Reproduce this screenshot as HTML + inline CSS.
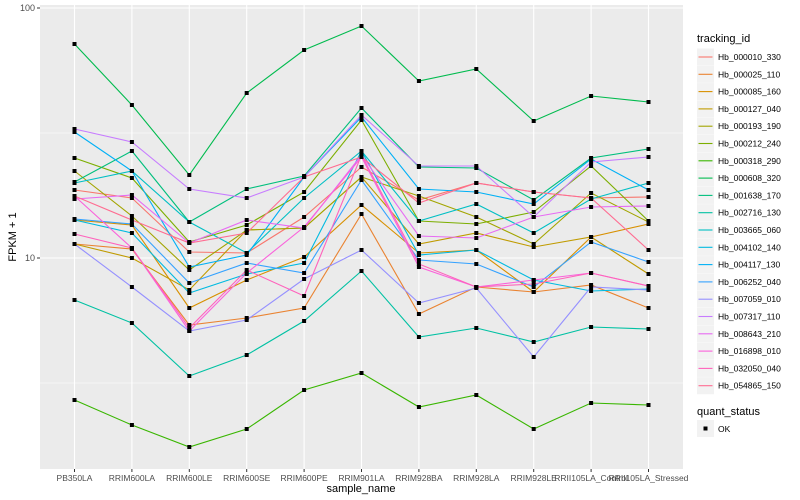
<!DOCTYPE html>
<html><head><meta charset="utf-8"><style>
html,body{margin:0;padding:0;background:#fff;}
svg{display:block;font-family:"Liberation Sans",sans-serif;}
</style></head><body>
<svg id="s" width="800" height="500" xmlns="http://www.w3.org/2000/svg">
<rect x="40" y="5" width="643" height="464" fill="#EBEBEB"/>
<g stroke="#fff" fill="none">
<line x1="40" x2="683" y1="133" y2="133" stroke-width="0.5"/>
<line x1="40" x2="683" y1="383" y2="383" stroke-width="0.5"/>
<line x1="40" x2="683" y1="8" y2="8" stroke-width="1.1"/>
<line x1="40" x2="683" y1="258" y2="258" stroke-width="1.1"/>
<g id="vg" stroke-width="1.1"></g>
</g>
<g id="lines" fill="none" stroke-width="1.1"></g>
<g id="pts" fill="#000"></g>
<g font-size="9" fill="#4D4D4D" text-anchor="end">
<text x="35" y="11">100</text>
<text x="35" y="261">10</text>
</g>
<g stroke="#333" stroke-width="1">
<line x1="37" x2="40" y1="8" y2="8"/><line x1="37" x2="40" y1="258" y2="258"/>
</g>
<g id="xl" font-size="8.5" fill="#4D4D4D" text-anchor="middle"></g>
<text x="361" y="492" font-size="11" text-anchor="middle" fill="#000">sample_name</text>
<text transform="translate(16,237) rotate(-90)" font-size="11" text-anchor="middle" fill="#000">FPKM + 1</text>
<text x="697" y="42" font-size="11" fill="#000">tracking_id</text>
<g id="leg"></g>
<text x="697" y="415" font-size="11" fill="#000">quant_status</text>
<rect x="697" y="420" width="17" height="17" fill="#F2F2F2"/>
<rect x="703.5" y="426.5" width="4" height="4" fill="#000"/>
<text x="718" y="432" font-size="8.5" fill="#000">OK</text>
</svg>
<script>
const X=[74.5,131.9,189.3,246.7,304.1,361.5,418.9,476.3,533.7,591.1,648.5];
const labels=["PB350LA","RRIM600LA","RRIM600LE","RRIM600SE","RRIM600PE","RRIM901LA","RRIM928BA","RRIM928LA","RRIM928LE","RRII105LA_Control","RRII105LA_Stressed"];
const cols=["#F8766D","#EA8331","#D89000","#C09B00","#A3A500","#7CAE00","#39B600","#00BB4E","#00BF7D","#00C1A3","#00BFC4","#00BAE0","#00B0F6","#35A2FF","#9590FF","#C77CFF","#E76BF3","#FA62DB","#FF62BC","#FF6C91"];
const names=["Hb_000010_330","Hb_000025_110","Hb_000085_160","Hb_000127_040","Hb_000193_190","Hb_000212_240","Hb_000318_290","Hb_000608_320","Hb_001638_170","Hb_002716_130","Hb_003665_060","Hb_004102_140","Hb_004117_130","Hb_006252_040","Hb_007059_010","Hb_007317_110","Hb_008643_210","Hb_016898_010","Hb_032050_040","Hb_054865_150"];
const D=[
[190,198,252,253,217,167,200,183,192,198,197],
[244,249,325,318,308,214,314,287,292,285,308],
[220,225,308,280,257,205,253,250,292,237,224],
[244,258,290,230,228,177,244,233,247,237,274],
[171,216,270,230,228,177,196,217,244,193,222],
[158,178,242,225,192,120,221,224,212,166,221],
[400,425,447,429,390,373,407,395,429,403,405],
[44,105,175,93,50,26,81,69,121,96,102],
[182,151,222,189,176,108,167,168,200,158,149],
[300,323,376,355,321,271,337,328,342,327,329],
[183,171,222,253,198,151,221,204,233,199,183],
[220,233,293,274,263,151,255,250,280,291,289],
[132,171,267,255,177,117,189,192,204,159,190],
[219,224,283,263,273,180,260,264,287,242,262],
[244,287,331,320,279,250,303,288,357,287,290],
[129,142,189,198,177,115,166,166,217,162,157],
[199,195,243,220,228,155,236,238,217,207,206],
[196,248,331,273,227,157,267,287,280,273,286],
[234,248,328,270,296,155,264,287,284,273,286],
[196,220,243,233,177,157,203,183,192,198,250]];
const NS="http://www.w3.org/2000/svg";
function el(t,a,p){const e=document.createElementNS(NS,t);for(const k in a)e.setAttribute(k,a[k]);document.getElementById(p).appendChild(e);return e;}
X.forEach((x,i)=>{el("line",{x1:x,x2:x,y1:5,y2:469},"vg");
el("line",{x1:x,x2:x,y1:469,y2:472,stroke:"#333"},"xl");
const t=el("text",{x:x,y:481},"xl");t.textContent=labels[i];});
D.forEach((d,j)=>{el("polyline",{points:d.map((y,i)=>X[i]+","+y).join(" "),stroke:cols[j]},"lines");
d.forEach((y,i)=>el("rect",{x:X[i]-2,y:y-2,width:4,height:4},"pts"));});
names.forEach((n,j)=>{const cy=57+j*17.3;
el("rect",{x:697,y:cy-8.5,width:17,height:17,fill:"#F2F2F2"},"leg");
el("line",{x1:698.5,x2:712.5,y1:cy,y2:cy,stroke:cols[j],"stroke-width":1.1},"leg");
const t=el("text",{x:718,y:cy+3,"font-size":"8.5",fill:"#000"},"leg");t.textContent=n;});
</script>
</body></html>
